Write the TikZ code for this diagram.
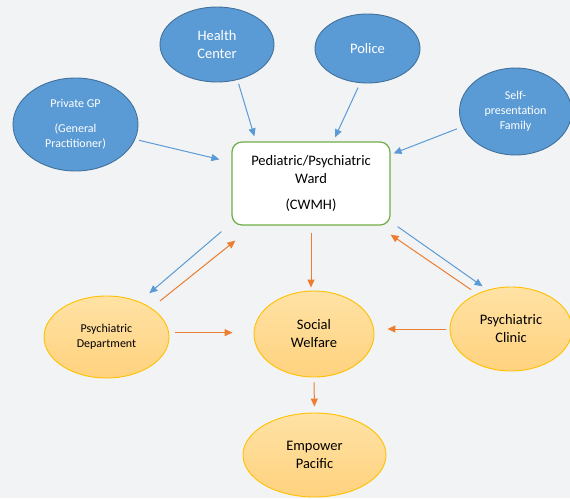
\documentclass[tikz,border=0pt]{standalone}
\usepackage{fontspec}
\setmainfont{Carlito}
\usepackage{tikz}
\usetikzlibrary{arrows.meta,calc,shapes.geometric}

\definecolor{bgray}{HTML}{F2F3F5}
\definecolor{acblue}{HTML}{5B9BD5}
\definecolor{acbluedk}{HTML}{41719C}
\definecolor{acorange}{HTML}{ED7D31}
\definecolor{acgold}{HTML}{FFC000}
\definecolor{goldtop}{HTML}{FFE2A5}
\definecolor{goldbot}{HTML}{FFD27E}
\definecolor{acgreen}{HTML}{70AD47}

\begin{document}
\begin{tikzpicture}[x=1pt, y=-1pt,
				bigtxt/.style={font=\fontsize{14.5}{18}\selectfont},
				smalltxt/.style={font=\fontsize{12}{15}\selectfont},
				src/.style={ellipse, draw=acbluedk, line width=0.9pt, fill=acblue, text=white, align=center, inner sep=0pt},
				dst/.style={ellipse, draw=acgold, line width=0.9pt, top color=goldtop, bottom color=goldbot, text=black, align=center, inner sep=0pt},
				ward/.style={draw=acgreen, line width=1.2pt, fill=white, rounded corners=10pt, align=center, inner sep=0pt},
				bl/.style={->, draw=acblue, line width=1pt},
				or/.style={->, draw=acorange, line width=1pt},
				>={Triangle[length=8pt,width=7pt]}]
				\useasboundingbox[fill=bgray] (0,0) rectangle (570,498);
				% referring services
				\node[src, bigtxt, minimum width=114pt, minimum height=75pt] (health) at (217,44.5) {Health\\Center};
				\node[src, bigtxt, minimum width=105pt, minimum height=69pt] (police) at (367.5,48.5) {Police};
				\node[src, smalltxt, minimum width=125pt, minimum height=93pt] (gp) at (75.5,124.5) {Private GP\\[10pt](General\\Practitioner)};
				\node[src, smalltxt, minimum width=112pt, minimum height=87pt] (self) at (515.5,111.5) {Self-\\presentation\\Family};
				% the ward
				\node[ward, bigtxt, minimum width=158pt, minimum height=83pt] (cwmh) at (311,183.5) {Pediatric/Psychiatric\\Ward\\[8pt](CWMH)};
				% follow-up services
				\node[dst, smalltxt, minimum width=125pt, minimum height=82pt] (pdept) at (106.5,337) {Psychiatric\\Department};
				\node[dst, bigtxt, minimum width=120pt, minimum height=86pt] (social) at (314,334) {Social\\Welfare};
				\node[dst, bigtxt, minimum width=122pt, minimum height=84pt] (clinic) at (511,329) {Psychiatric\\Clinic};
				\node[dst, bigtxt, minimum width=143pt, minimum height=84pt] (empower) at (314.5,455) {Empower\\Pacific};
				% referrals into the ward
				\draw[bl, shorten <=4pt] (health.-60) -- ($(cwmh.north west)+(23,-5)$);
				\draw[bl, shorten <=4pt] (gp.-14) -- ($(cwmh.north west)+(-12,18)$);
				\draw[bl, shorten <=5pt] (police.-102) -- ($(cwmh.north)+(24,-4)$);
				\draw[bl, shorten <=6pt] (self.-164) -- ($(cwmh.north east)+(3,12)$);
				% ward and psychiatric services
				\draw[bl, shorten >=13pt] ($(cwmh.south west)+(-10,6)$) -- (pdept.47);
				\draw[or, shorten <=11pt] (pdept.33) -- ($(cwmh.south west)+(4,15)$);
				\draw[bl, shorten >=6pt] ($(cwmh.south east)+(7,1)$) -- (clinic.121);
				\draw[or, shorten <=7pt] (clinic.134) -- ($(cwmh.south east)+(0,9)$);
				% on to social welfare
				\draw[or, shorten <=7pt, shorten >=3pt] (cwmh.south) -- (cwmh.south |- social.north);
				\draw[or, shorten <=6pt, shorten >=21pt] (pdept.4) -- (pdept.4 -| social.west);
				\draw[or, shorten <=4pt, shorten >=13pt] (clinic.west) -- (clinic.west -| social.east);
				\draw[or, shorten <=5pt, shorten >=6pt] (social.south) -- (empower.north);
			\end{tikzpicture}
\end{document}
